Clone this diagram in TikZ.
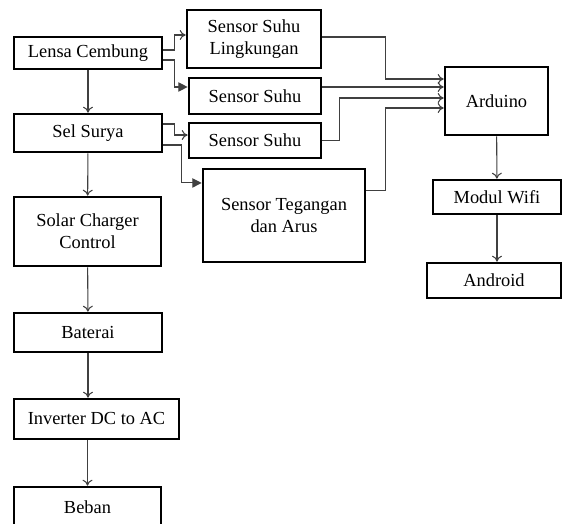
\documentclass[tikz,border=0pt]{standalone}
\usepackage{fontspec}
\setmainfont{Liberation Serif}
\usetikzlibrary{arrows.meta}
\tikzset{
  kotak/.style={draw, line width=2pt, align=center, inner sep=0pt},
  garis/.style={draw=black!75, line width=0.8pt},
  panah/.style={garis, -{To[length=4.5pt,width=7.5pt]}},
  panahpenuh/.style={garis, -{Triangle[length=7pt,width=7pt]}}
}
\begin{document}
\begin{tikzpicture}[x=0.75pt, y=-0.75pt, font=\fontsize{13.8}{16.5}\selectfont]
\useasboundingbox (0,0) rectangle (562,524);
% blok daya
\node[kotak, minimum width=111pt, minimum height=24pt] (lensa) at (88,53) {Lensa Cembung};
\node[kotak, minimum width=111pt, minimum height=28.5pt] (sel) at (88,133) {Sel Surya};
\node[kotak, minimum width=110.25pt, minimum height=51.75pt] (charger) at (87.5,231.5) {Solar Charger\\Control};
\node[kotak, minimum width=111pt, minimum height=29.25pt] (baterai) at (88,332.5) {Baterai};
\node[kotak, minimum width=123.75pt, minimum height=30pt] (inverter) at (96.5,419) {Inverter DC to AC};
\node[kotak, minimum width=110.25pt, minimum height=30pt] (beban) at (87.5,507) {Beban};
% blok sensor
\node[kotak, minimum width=100.5pt, minimum height=43.5pt] (suhuling) at (254,39) {Sensor Suhu\\Lingkungan};
\node[kotak, minimum width=99pt, minimum height=27pt] (suhu1) at (255,96) {Sensor Suhu};
\node[kotak, minimum width=99pt, minimum height=26.25pt] (suhu2) at (255,140.5) {Sensor Suhu};
\node[kotak, minimum width=121.5pt, minimum height=69.75pt] (tegangan) at (284,215.5) {Sensor Tegangan\\dan Arus};
% blok monitoring
\node[kotak, minimum width=77.25pt, minimum height=51pt] (arduino) at (496.5,101) {Arduino};
\node[kotak, minimum width=96pt, minimum height=25.5pt] (wifi) at (497,197) {Modul Wifi};
\node[kotak, minimum width=100.5pt, minimum height=26.25pt] (android) at (494,280.5) {Android};
% alur daya
\draw[panah] (lensa) -- (sel);
\draw[panah] (sel) -- (charger);
\draw[panah] (charger) -- (baterai);
\draw[panah] (baterai) -- (baterai |- inverter.north);
\draw[panah] (inverter.south -| beban) -- (beban);
% ke sensor
\draw[panah] ([yshift=2.25pt]lensa.east) -- ++(11,0) |- ([yshift=3pt]suhuling.west);
\draw[panahpenuh] ([yshift=-5.25pt]lensa.east) -- ++(11,0) |- ([yshift=6.75pt]suhu1.west);
\draw[panah] ([yshift=6.75pt]sel.east) -- ++(11,0) |- ([yshift=4.1pt]suhu2.west);
\draw[panahpenuh] ([yshift=-9pt]sel.east) -- ++(18,0) |- ([yshift=24.4pt]tegangan.west);
% ke arduino
\draw[panah] ([yshift=1.5pt]suhuling.east) -- ++(63,0) |- ([yshift=16.5pt]arduino.west);
\draw[panah] ([yshift=6.75pt]suhu1.east) -- ([yshift=10.5pt]arduino.west);
\draw[panah] (suhu2.east) -- ++(17,0) |- ([yshift=2.25pt]arduino.west);
\draw[panah] ([yshift=18.4pt]tegangan.east) -- ++(19,0) |- ([yshift=-5.25pt]arduino.west);
\draw[panah] (arduino) -- (wifi);
\draw[panah] (wifi) -- (wifi |- android.north);
\end{tikzpicture}
\end{document}
